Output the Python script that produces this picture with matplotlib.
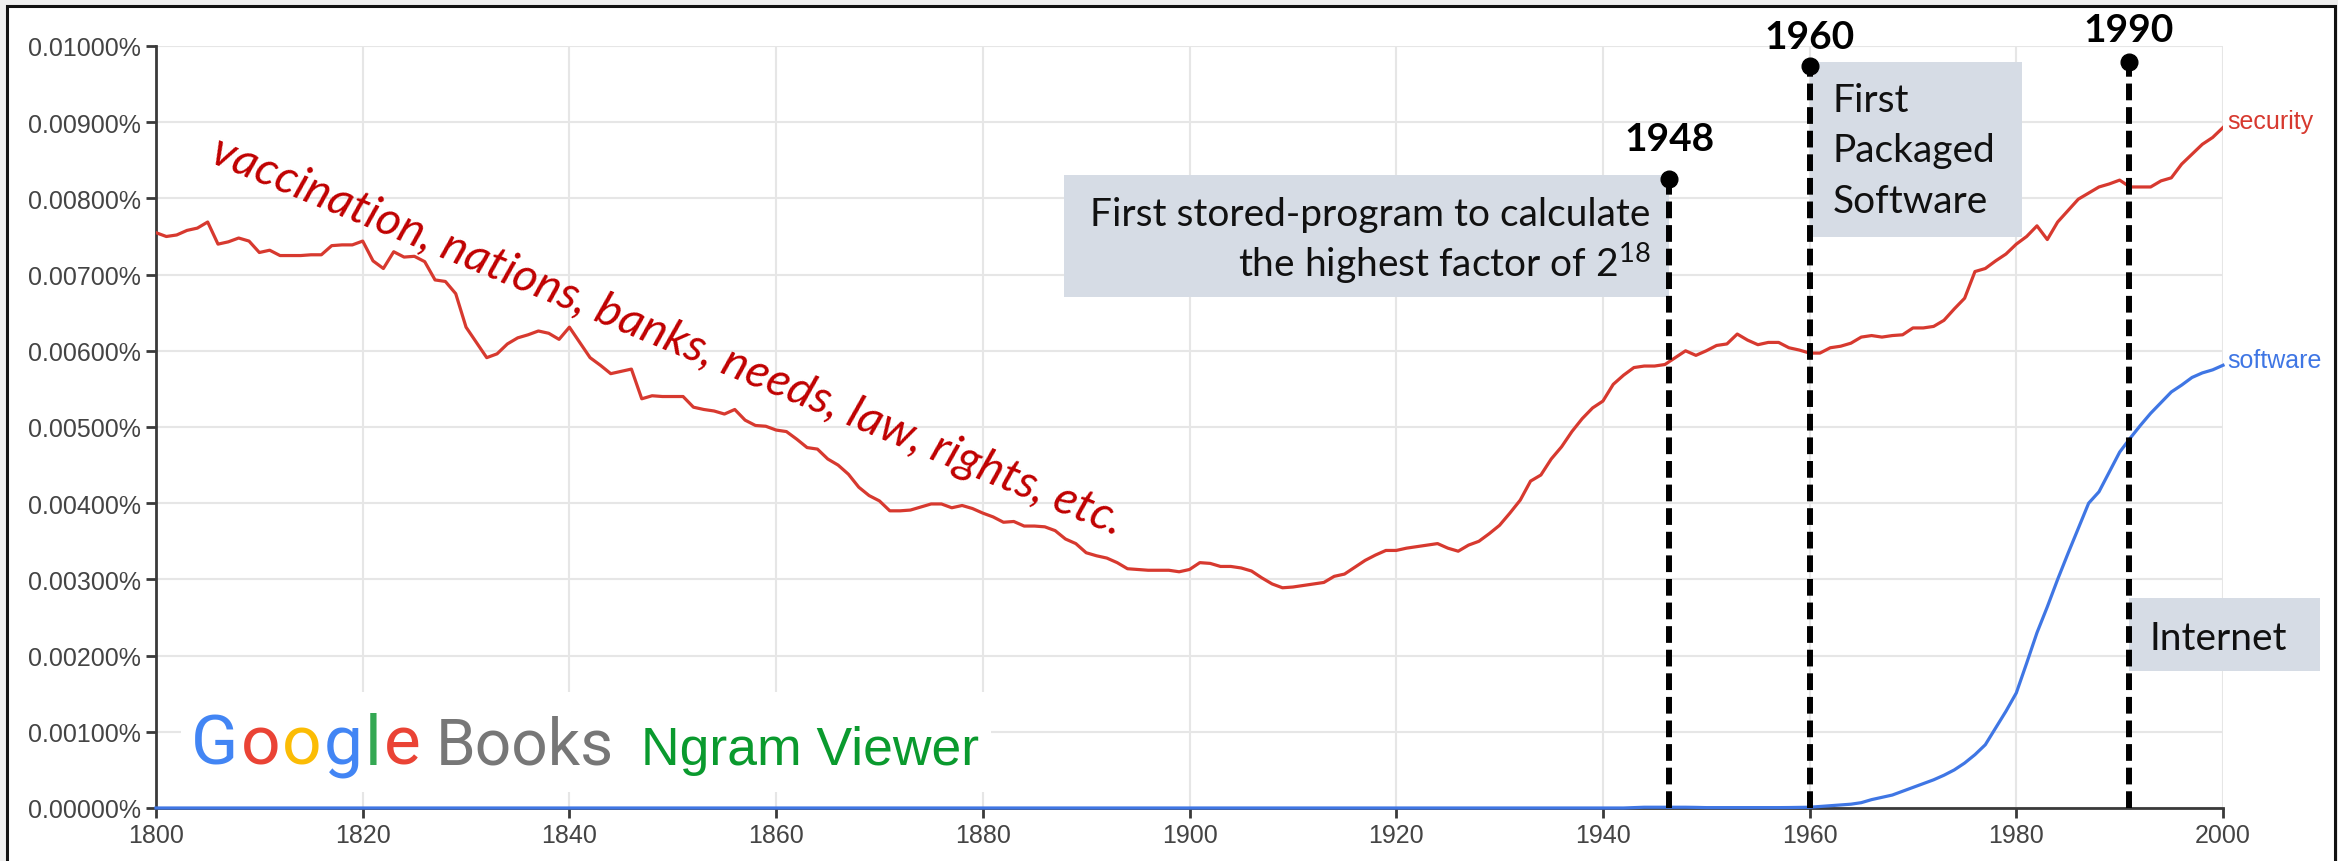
"""
Google Books Ngram chart for "security" vs "software", 1800-2000,
with the computing milestones (1948, 1960, 1990) marked on top.

Output:
    out.png  (2338 x 862 px)
"""

import matplotlib
matplotlib.use("Agg")
import matplotlib.pyplot as plt
from matplotlib.patches import Rectangle
from matplotlib.ticker import FuncFormatter

# ---- values (percent of all words) ----

YEARS = list(range(1800, 2001))

SECURITY = [
    0.00755, 0.00750, 0.00752, 0.00758, 0.00761, 0.00769, 0.00740, 0.00743, 0.00748, 0.00744,  # 1800
    0.00729, 0.00732, 0.00725, 0.00725, 0.00725, 0.00726, 0.00726, 0.00738, 0.00739, 0.00739,  # 1810
    0.00744, 0.00718, 0.00708, 0.00730, 0.00723, 0.00724, 0.00717, 0.00693, 0.00691, 0.00675,  # 1820
    0.00631, 0.00611, 0.00591, 0.00596, 0.00609, 0.00617, 0.00621, 0.00626, 0.00623, 0.00615,  # 1830
    0.00631, 0.00611, 0.00591, 0.00581, 0.00570, 0.00573, 0.00576, 0.00537, 0.00541, 0.00540,  # 1840
    0.00540, 0.00540, 0.00526, 0.00523, 0.00521, 0.00517, 0.00523, 0.00509, 0.00502, 0.00501,  # 1850
    0.00496, 0.00494, 0.00484, 0.00473, 0.00471, 0.00458, 0.00450, 0.00438, 0.00421, 0.00410,  # 1860
    0.00403, 0.00390, 0.00390, 0.00391, 0.00395, 0.00399, 0.00399, 0.00394, 0.00397, 0.00393,  # 1870
    0.00387, 0.00382, 0.00375, 0.00376, 0.00370, 0.00370, 0.00369, 0.00364, 0.00353, 0.00347,  # 1880
    0.00335, 0.00331, 0.00328, 0.00322, 0.00314, 0.00313, 0.00312, 0.00312, 0.00312, 0.00310,  # 1890
    0.00313, 0.00322, 0.00321, 0.00317, 0.00317, 0.00315, 0.00311, 0.00302, 0.00294, 0.00289,  # 1900
    0.00290, 0.00292, 0.00294, 0.00296, 0.00304, 0.00307, 0.00316, 0.00325, 0.00332, 0.00338,  # 1910
    0.00338, 0.00341, 0.00343, 0.00345, 0.00347, 0.00341, 0.00337, 0.00345, 0.00350, 0.00360,  # 1920
    0.00371, 0.00387, 0.00404, 0.00429, 0.00437, 0.00458, 0.00474, 0.00494, 0.00511, 0.00525,  # 1930
    0.00534, 0.00556, 0.00568, 0.00578, 0.00580, 0.00580, 0.00582, 0.00591, 0.00600, 0.00594,  # 1940
    0.00600, 0.00607, 0.00609, 0.00622, 0.00614, 0.00608, 0.00611, 0.00611, 0.00604, 0.00601,  # 1950
    0.00597, 0.00597, 0.00604, 0.00606, 0.00610, 0.00618, 0.00620, 0.00618, 0.00620, 0.00621,  # 1960
    0.00630, 0.00630, 0.00632, 0.00640, 0.00655, 0.00669, 0.00704, 0.00708, 0.00718, 0.00727,  # 1970
    0.00740, 0.00750, 0.00764, 0.00746, 0.00769, 0.00784, 0.00799, 0.00807, 0.00815, 0.00819,  # 1980
    0.00824, 0.00815, 0.00815, 0.00815, 0.00823, 0.00827, 0.00845, 0.00858, 0.00871, 0.00880,  # 1990
    0.00893,
]

# "software" sits on zero for the whole 19th century, so only the start
# point and the years from 1940 on are listed
SOFTWARE_YEARS = [1800] + list(range(1940, 2001))
SOFTWARE = [
    0.0,
    0.0, 0.0, 0.0, 0.000005, 0.00001, 0.00001, 0.00001, 0.00001, 0.00001, 0.000008,  # 1940
    0.000005, 0.000005, 0.000005, 0.000005, 0.000005, 0.000005, 0.000005, 0.000005, 0.000006, 0.000008,  # 1950
    0.00001, 0.00002, 0.00003, 0.00004, 0.00005, 0.00007, 0.00011, 0.00014, 0.00017, 0.00022,  # 1960
    0.00027, 0.00032, 0.00037, 0.00043, 0.00050, 0.00059, 0.00070, 0.00083, 0.00105, 0.00127,  # 1970
    0.00151, 0.00190, 0.00230, 0.00264, 0.00300, 0.00334, 0.00367, 0.00400, 0.00415, 0.00441,  # 1980
    0.00467, 0.00485, 0.00502, 0.00518, 0.00532, 0.00546, 0.00555, 0.00565, 0.00571, 0.00575,  # 1990
    0.00581,
]

X_TICKS = [1800, 1820, 1840, 1860, 1880, 1900, 1920, 1940, 1960, 1980, 2000]
Y_TICKS = [0.0, 0.001, 0.002, 0.003, 0.004, 0.005, 0.006, 0.007, 0.008, 0.009, 0.010]

MILESTONE_X = [1946.4, 1960.0, 1990.9]
MILESTONE_TOP = [0.00825, 0.00974, 0.00979]
MILESTONE_LABELS = ["1948", "1960", "1990"]

NOTE_LINES = [
    ["First stored-program to calculate", "the highest factor of 2$^{18}$"],
    ["First", "Packaged", "Software"],
    ["Internet"],
]

WORD_LIST = "vaccination, nations, banks, needs, law, rights, etc."

RED = "#d7392f"
BLUE = "#3f76e4"
NOTE_BG = "#d6dce5"

W, H = 2338, 862


def _chain_text(ax, x, y, pieces):
    # lay text pieces side by side on one baseline (multi-coloured logo)
    renderer = ax.figure.canvas.get_renderer()
    to_data = ax.transData.inverted()
    for text, color, size, family, gap in pieces:
        t = ax.text(x, y, text, color=color, fontsize=size, family=family,
                    ha="left", va="baseline", zorder=2)
        bb = t.get_window_extent(renderer)
        x = to_data.transform((bb.x1 + gap, bb.y0))[0]


def _note(ax, x0, x1, y0, y1, lines, text_x, first_baseline, step, ha):
    ax.add_patch(Rectangle((x0, y0), x1 - x0, y1 - y0, facecolor=NOTE_BG,
                           edgecolor="none", zorder=1, clip_on=False))
    for i, line in enumerate(lines):
        ax.text(text_x, first_baseline - i * step, line, ha=ha, va="baseline",
                family="Lato", fontsize=28, color="#111111", zorder=6, clip_on=False)


def generate_chart():
    plt.rcParams["font.family"] = ["Liberation Sans", "DejaVu Sans"]
    plt.rcParams["mathtext.fontset"] = "custom"
    plt.rcParams["mathtext.rm"] = "Lato"
    plt.rcParams["mathtext.it"] = "Lato:italic"
    plt.rcParams["mathtext.bf"] = "Lato:bold"

    fig = plt.figure(figsize=(W / 100, H / 100), dpi=100)
    fig.patch.set_facecolor("#eeeeee")
    fig.add_artist(Rectangle((7 / W, -0.02), (2335 - 7) / W, 1.02 - 7 / H,
                             transform=fig.transFigure, facecolor="white",
                             edgecolor="#111111", linewidth=2.2, zorder=-1))

    left, right, top, bottom = 156, 2223, 47, 809
    ax = fig.add_axes([left / W, 1 - bottom / H, (right - left) / W, (bottom - top) / H])
    ax.set_xlim(1800, 2000)
    ax.set_ylim(0, 0.01)
    ax.set_xticks(X_TICKS)
    ax.set_yticks(Y_TICKS)
    ax.yaxis.set_major_formatter(FuncFormatter(lambda v, _: f"{v:.5f}%"))
    ax.set_axisbelow(True)
    ax.grid(True, color="#e6e6e6", linewidth=1.5)
    for side in ("top", "right"):
        ax.spines[side].set_visible(False)
    for side in ("left", "bottom"):
        ax.spines[side].set_color("#3a3a3a")
        ax.spines[side].set_linewidth(2)
    ax.tick_params(direction="out", length=7, width=2, color="#3a3a3a",
                   labelsize=18, labelcolor="#444444", pad=4)

    # white patch behind the logo hides the grid there
    ax.add_patch(Rectangle((1802.4, 0.00021), 78.4, 0.00131, facecolor="white",
                           edgecolor="none", zorder=1))
    google = [("G", "#4285f4"), ("o", "#ea4335"), ("o", "#fbbc05"),
              ("g", "#4285f4"), ("l", "#34a853"), ("e", "#ea4335")]
    pieces = [(ch, col, 50, "Roboto", 2) for ch, col in google]
    pieces[-1] = ("e", "#ea4335", 50, "Roboto", 15)
    pieces.append(("Books", "#777777", 46, "Roboto", 27))
    pieces.append(("Ngram Viewer", "#0a9a2e", 38.5, "Liberation Sans", 0))
    _chain_text(ax, 1803.4, 0.00058, pieces)

    ax.plot(YEARS, SECURITY, color=RED, linewidth=2.3, zorder=3)
    ax.plot(SOFTWARE_YEARS, SOFTWARE, color=BLUE, linewidth=2.3, zorder=3, clip_on=False)
    ax.annotate("security", xy=(YEARS[-1], SECURITY[-1]), xytext=(3, 5),
                textcoords="offset points", ha="left", va="center",
                color=RED, fontsize=18, annotation_clip=False)
    ax.annotate("software", xy=(SOFTWARE_YEARS[-1], SOFTWARE[-1]), xytext=(3, 4),
                textcoords="offset points", ha="left", va="center",
                color=BLUE, fontsize=18, annotation_clip=False)

    ax.text(1805.0, 0.00850, WORD_LIST, rotation=-22.4, rotation_mode="anchor",
            ha="left", va="baseline", color="#c00000", family="Lato",
            style="italic", fontsize=34, zorder=6)

    # milestone notes
    step = 0.00066
    _note(ax, 1887.9, MILESTONE_X[0], 0.0067, 0.008305, NOTE_LINES[0],
          1944.6, 0.00765, step, "right")
    _note(ax, MILESTONE_X[1], 1980.55, 0.00749, 0.00979, NOTE_LINES[1],
          1962.2, 0.009146, step, "left")
    _note(ax, MILESTONE_X[2], 2009.4, 0.0018, 0.00275, NOTE_LINES[2],
          1992.9, 0.00209, step, "left")

    label_gap = [0.00039, 0.00023, 0.00028]
    for x, y_top, label, gap in zip(MILESTONE_X, MILESTONE_TOP, MILESTONE_LABELS, label_gap):
        ax.plot([x, x], [0, y_top], color="black", linewidth=4.3,
                linestyle=(0, (2.8, 1.15)), zorder=4, clip_on=False)
        ax.plot([x], [y_top], marker="o", markersize=12, color="black",
                zorder=5, clip_on=False)
        ax.text(x, y_top + gap, label, ha="center", va="baseline", family="Lato",
                fontweight="bold", fontsize=28, color="black", zorder=6, clip_on=False)

    fig.savefig("out.png", dpi=100, facecolor=fig.get_facecolor())
    plt.close(fig)


if __name__ == "__main__":
    generate_chart()
